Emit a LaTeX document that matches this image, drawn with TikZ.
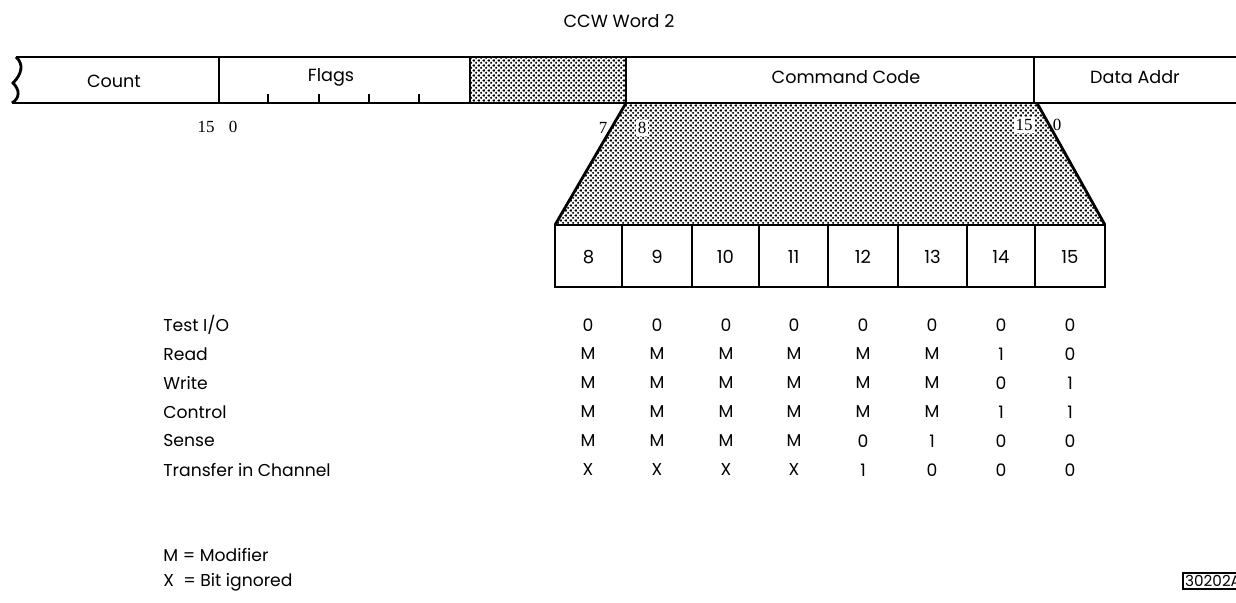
\documentclass[tikz,border=0pt]{standalone}
\usepackage{fontspec}
\setmainfont{Poppins}
\newfontfamily\numfont{Liberation Serif}
\usetikzlibrary{patterns.meta}
\tikzdeclarepattern{
  name=finedots,
  type=colored,
  bottom left={(0pt,0pt)},
  top right={(2.4pt,2.4pt)},
  tile size={(2.4pt,2.4pt)},
  code={
    \fill[black] (0.6pt,0.6pt) circle (0.6pt);
    \fill[black] (1.8pt,1.8pt) circle (0.6pt);
  }
}
\begin{document}
\begin{tikzpicture}[x=0.5pt,y=-0.5pt,
  barline/.style={line width=1.4pt},
  divline/.style={line width=1pt},
  shade/.style={pattern=finedots},
  fieldlabel/.style={font=\fontsize{8.8}{10}\selectfont, inner sep=0pt},
  bitno/.style={font=\numfont\fontsize{8.5}{10}\selectfont, inner sep=1pt},
  celltext/.style={font=\fontsize{9}{10}\selectfont, inner sep=0pt},
  rowlabel/.style={font=\fontsize{8.6}{10}\selectfont, anchor=west, inner sep=0pt},
  valtext/.style={font=\fontsize{8.6}{10}\selectfont, inner sep=0pt}]
\useasboundingbox (0,0) rectangle (1236,603);

% title
\node[fieldlabel] (title) at (619,21) {CCW Word 2};

% shaded reserved field and shaded funnel
\fill[shade] (470,57) rectangle (626,103);
\coordinate (ftl) at (626,103);
\coordinate (ftr) at (1037,103);
\coordinate (fbl) at (555,225);
\coordinate (fbr) at (1105,225);
\fill[shade] (ftl) -- (ftr) -- (fbr) -- (fbl) -- cycle;

% word bar
\coordinate (wt) at (16,57);
\coordinate (wb) at (12,103);
\draw[barline] (wt) .. controls (24,64) and (22,74) .. (13,83)
  .. controls (20,90) and (20,98) .. (wb);
\draw[barline] (wt) -- (1236,57);
\draw[barline] (wb) -- (1236,103);
\foreach \x in {219,470,626,1034} \draw[divline] (\x,57) -- (\x,103);
\foreach \x in {268,319,369,419} \draw[divline] (\x,94) -- (\x,103);

\node[fieldlabel] (count) at (114,81) {Count};
\node[fieldlabel] (flags) at (331,77) {Flags};
\node[fieldlabel] (cmd) at (846,77) {Command Code};
\node[fieldlabel] (daddr) at (1135,77) {Data Addr};

% bit numbers
\node[bitno] (n15a) at (206,127) {15};
\node[bitno] (n0a) at (233,127) {0};
\node[bitno] (n7) at (603,128) {7};
\node[bitno, fill=white] (n8) at (642,128) {8};
\node[bitno, fill=white] (n15b) at (1024,125) {15};
\node[bitno] (n0b) at (1057,125) {0};

% slanted sides
\draw[barline] (ftl) -- (fbl);
\draw[barline] (ftr) -- (fbr);

% bit cells
\foreach \i/\a/\b in {8/555/622,9/622/692,10/692/759,11/759/828,12/828/898,13/898/967,14/967/1035,15/1035/1105}{
  \draw[divline, fill=white] (\a,225) rectangle (\b,287);
  \node[celltext] (c\i) at ({(\a+\b)/2},257) {\i};
}

% table
\foreach \lab/\y [count=\r] in {
  {Test I/O}/325, {Read}/354, {Write}/383, {Control}/412,
  {Sense}/441, {Transfer in Channel}/470}{
  \node[rowlabel] (r\r) at (163,\y) {\lab};
}
\foreach \y/\vals [count=\r] in {
  325/{0,0,0,0,0,0,0,0},
  354/{M,M,M,M,M,M,1,0},
  383/{M,M,M,M,M,M,0,1},
  412/{M,M,M,M,M,M,1,1},
  441/{M,M,M,M,0,1,0,0},
  470/{X,X,X,X,1,0,0,0}}{
  \foreach \v [count=\k] in \vals {
    \pgfmathsetmacro{\cx}{{588,657,726,794,863,932,1001,1070}[\k-1]}
    \node[valtext] (v\r-\k) at (\cx,\y) {\v};
  }
}

% legend
\node[rowlabel] (legm) at (163,555) {M = Modifier};
\node[rowlabel] (legx) at (163,582) {X~ = Bit ignored};

% figure number
\node[draw, line width=0.8pt, anchor=west, inner sep=1.2pt,
  font=\fontsize{7.6}{9}\selectfont] (fig) at (1182,581) {30202A};
\end{tikzpicture}
\end{document}
